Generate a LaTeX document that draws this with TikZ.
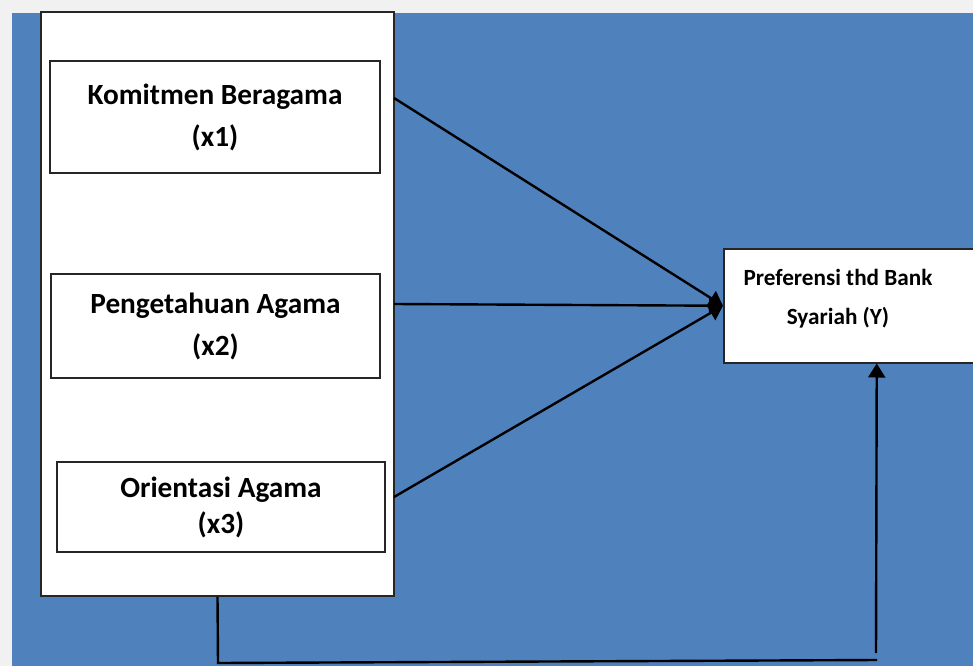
\documentclass[tikz,border=0pt]{standalone}
\usepackage{fontspec}
\setmainfont{Carlito}
\usetikzlibrary{arrows.meta}
\definecolor{bgblue}{HTML}{4F81BD}
\definecolor{pagegray}{HTML}{F1F1F1}
\begin{document}
\begin{tikzpicture}[x=1pt,y=-1pt,
    varbox/.style={draw=black!85,line width=1.5pt,fill=white,rectangle,inner sep=0pt,
      align=center,font=\fontsize{29.3}{42}\selectfont\bfseries},
    link/.style={draw=black,line width=2.4pt},
    linkarr/.style={link,-{Triangle[length=14pt,width=17pt]}}]
	\clip (0,0) rectangle (973,666);
	\fill[pagegray] (0,0) rectangle (973,666);
	\fill[bgblue] (12,13) rectangle (973,666);
	% variabel bebas
	\node[varbox,minimum width=353,minimum height=584] (big) at (217.5,304) {};
	\node[varbox,minimum width=330,minimum height=112] (kb) at (215,117) {Komitmen Beragama\\(x1)};
	\node[varbox,minimum width=329,minimum height=104] (pa) at (215.5,326) {Pengetahuan Agama\\(x2)};
	\node[varbox,minimum width=328,minimum height=90,font=\fontsize{29.3}{36}\selectfont\bfseries] (oa) at (221,507) {Orientasi Agama\\(x3)};
	% variabel terikat
	\node[varbox,anchor=north west,minimum width=306,minimum height=114] (pref) at (723,248) {};
	\node[font=\fontsize{23.2}{39}\selectfont\bfseries,align=center] (preftxt) at (838,299) {Preferensi thd Bank\\Syariah (Y)};
	% garis pengaruh
	\coordinate (s1) at (394,98);
	\coordinate (s2) at (394,304);
	\coordinate (s3) at (394,497);
	\draw[linkarr] (s1) -- (pref.west);
	\draw[linkarr] (s2) -- (pref.west);
	\draw[linkarr] (s3) -- (pref.west);
	\coordinate (b1) at (218,663);
	\coordinate (b2) at (877,660);
	\coordinate (b3) at (876,653);
	\draw[link] (big.south) -- (b1) -- (b2);
	\draw[linkarr] (b3) -- (pref.south);
\end{tikzpicture}
\end{document}
